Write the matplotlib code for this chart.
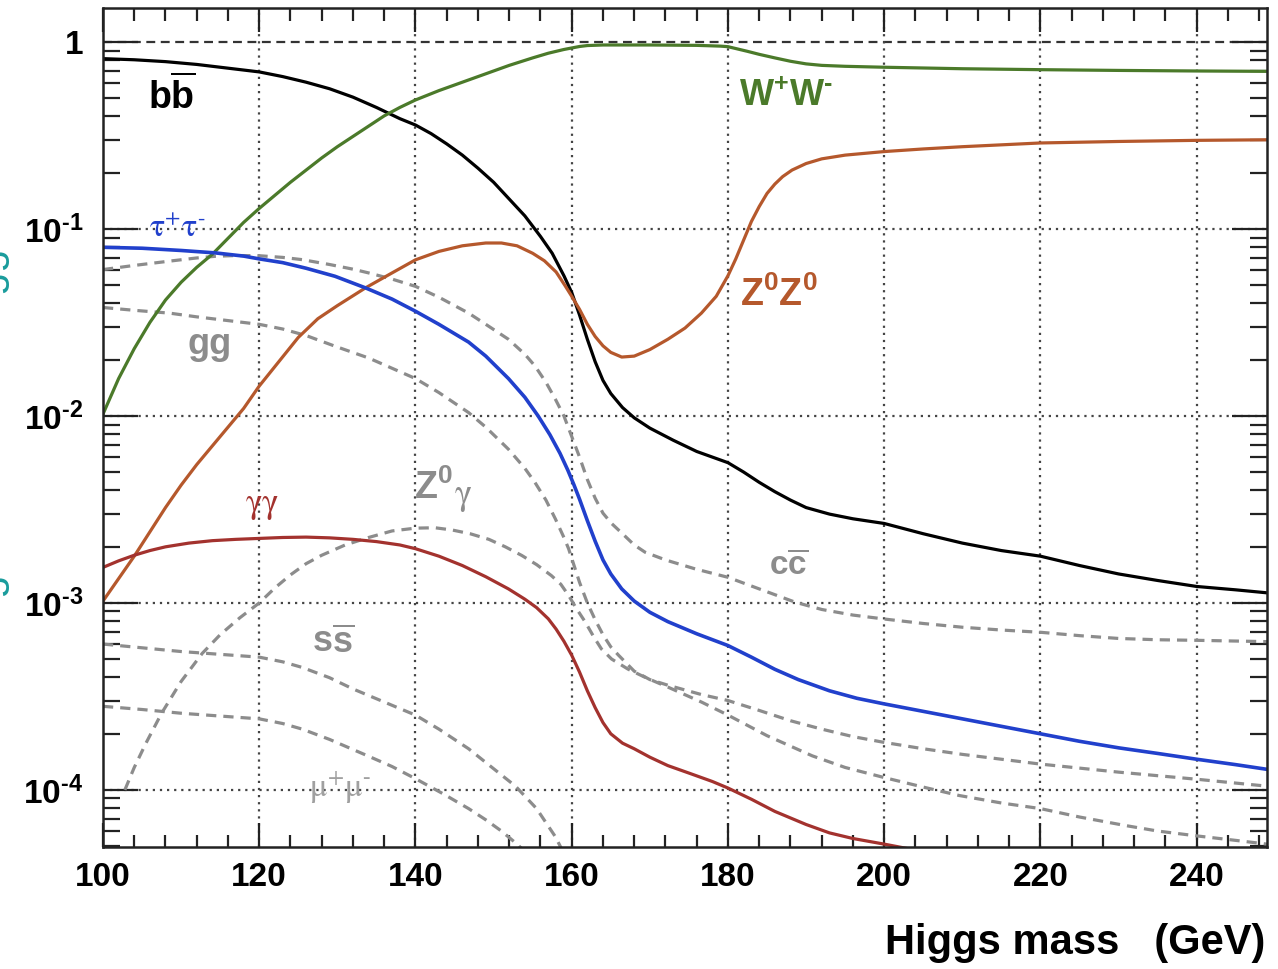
import math

import matplotlib

matplotlib.use("Agg")

import matplotlib.pyplot as plt
import numpy as np
from matplotlib.ticker import FixedLocator, FuncFormatter, LogLocator, MultipleLocator, NullFormatter

plt.rcParams["font.family"] = ["Liberation Sans", "DejaVu Sans"]
plt.rcParams["mathtext.fontset"] = "custom"
plt.rcParams["mathtext.rm"] = "Liberation Sans:bold"
plt.rcParams["mathtext.bf"] = "Liberation Sans:bold"
plt.rcParams["mathtext.it"] = "Liberation Sans:bold"
plt.rcParams["mathtext.sf"] = "Liberation Sans:bold"

# branching ratios, kept as log10(BR); Higgs mass in GeV
mass_bb = [100, 104, 108, 112, 116, 120, 123, 126, 129, 132, 135, 138, 140, 142, 144, 146, 148,
           150, 152, 154, 156, 157.5, 159, 160, 161, 162, 163, 164, 165, 166.5, 168, 170, 173,
           176, 178, 180, 182, 184, 186, 188, 190, 193, 196, 200, 205, 210, 215, 220, 225, 230,
           235, 240, 245, 249]
log_bb = [-0.089, -0.095, -0.105, -0.12, -0.14, -0.16, -0.185, -0.215, -0.25, -0.295, -0.35,
          -0.41, -0.444, -0.49, -0.545, -0.605, -0.675, -0.75, -0.84, -0.93, -1.04, -1.13, -1.25,
          -1.34, -1.46, -1.59, -1.71, -1.81, -1.88, -1.955, -2.01, -2.065, -2.13, -2.19, -2.22,
          -2.25, -2.30, -2.355, -2.405, -2.45, -2.49, -2.525, -2.55, -2.575, -2.63, -2.68, -2.72,
          -2.75, -2.80, -2.845, -2.88, -2.912, -2.93, -2.946]

mass_ww = [100, 102, 104, 106, 108, 110, 112, 114, 116, 118, 120, 122, 124, 126, 128, 130, 132,
           134, 136, 138, 140, 143, 146, 149, 152, 155, 157, 159, 160, 161, 162, 164, 170, 176,
           179, 180, 181, 182.5, 184, 186, 188, 190, 192, 195, 200, 210, 220, 230, 240, 249]
log_ww = [-1.99, -1.80, -1.64, -1.50, -1.38, -1.285, -1.205, -1.135, -1.05, -0.965, -0.89, -0.82,
          -0.75, -0.685, -0.62, -0.56, -0.505, -0.45, -0.395, -0.35, -0.31, -0.26, -0.215, -0.17,
          -0.125, -0.085, -0.06, -0.04, -0.032, -0.024, -0.019, -0.016, -0.016, -0.018, -0.022,
          -0.025, -0.035, -0.05, -0.066, -0.085, -0.103, -0.117, -0.125, -0.13, -0.135, -0.143,
          -0.148, -0.152, -0.155, -0.157]

mass_tautau = [100, 105, 110, 114.4, 118, 120, 123, 126, 129.7, 133.6, 137, 140, 143, 146.8, 149,
               151.9, 154, 155.7, 157.2, 158.5, 159.5, 160.3, 161, 162, 163, 164, 165, 166.4, 168,
               170, 172.3, 176, 180, 183, 186, 189, 193, 196.5, 200, 205, 210, 215, 220, 225, 230,
               235, 240, 245, 249]
log_tautau = [-1.098, -1.103, -1.115, -1.128, -1.145, -1.16, -1.18, -1.21, -1.253, -1.315, -1.375,
              -1.44, -1.51, -1.605, -1.68, -1.80, -1.90, -2.0, -2.10, -2.2, -2.29, -2.37, -2.445,
              -2.56, -2.67, -2.77, -2.845, -2.925, -2.99, -3.05, -3.10, -3.165, -3.228, -3.29,
              -3.355, -3.41, -3.47, -3.51, -3.54, -3.58, -3.62, -3.66, -3.70, -3.74, -3.775,
              -3.805, -3.836, -3.865, -3.89]

mass_zz = [100, 102, 104, 106, 108, 110, 112, 114, 116, 118, 120, 122.5, 125, 127.5, 130, 133.6,
           137, 140, 143, 146, 149, 151, 153, 155, 156.5, 158, 159.1, 160, 161, 162, 163, 164,
           165, 166.4, 168, 170, 172.3, 174.5, 176.6, 178.5, 180, 181, 182, 183, 184, 185, 186,
           187, 188.2, 190, 192, 195, 200, 205, 210, 215, 220, 230, 240, 249]
log_zz = [-2.99, -2.87, -2.75, -2.62, -2.49, -2.37, -2.26, -2.16, -2.06, -1.96, -1.84, -1.71,
          -1.58, -1.48, -1.41, -1.315, -1.235, -1.165, -1.12, -1.09, -1.075, -1.075, -1.09, -1.13,
          -1.17, -1.23, -1.30, -1.36, -1.43, -1.51, -1.575, -1.625, -1.66, -1.685, -1.68, -1.645,
          -1.59, -1.53, -1.45, -1.36, -1.25, -1.16, -1.06, -0.96, -0.88, -0.81, -0.76, -0.72,
          -0.685, -0.65, -0.625, -0.605, -0.586, -0.572, -0.56, -0.55, -0.54, -0.532, -0.526,
          -0.523]

mass_gamgam = [100, 102, 104, 106, 108, 111, 114, 117, 120, 123, 126, 129, 132, 135, 138, 140,
               143, 146, 149, 151.9, 154, 155.5, 157, 158, 159, 160, 161, 162, 163, 164, 165,
               166.5, 168, 170, 172.3, 175, 178, 180, 183, 186, 190, 193, 196, 200, 203]
log_gamgam = [-2.81, -2.775, -2.745, -2.72, -2.70, -2.68, -2.667, -2.66, -2.655, -2.65, -2.648,
              -2.652, -2.66, -2.672, -2.69, -2.71, -2.75, -2.80, -2.86, -2.925, -2.98, -3.025,
              -3.085, -3.14, -3.205, -3.28, -3.37, -3.47, -3.56, -3.64, -3.70, -3.75, -3.78,
              -3.825, -3.87, -3.91, -3.955, -3.99, -4.05, -4.115, -4.185, -4.23, -4.26, -4.29,
              -4.314]

mass_gg = [100, 104, 108.5, 112, 114.4, 117, 120, 123, 125.5, 129, 132, 134, 137, 140, 143, 146.8,
           149, 151.9, 154, 155.3, 156.7, 157.9, 159, 160, 161, 162, 163, 164, 165.1, 166.5, 168,
           169.4, 172, 175.8, 180, 184, 188.6, 192, 196, 200, 205, 210, 215, 220, 225, 230, 235,
           240, 249]
log_gg = [-1.217, -1.195, -1.172, -1.155, -1.146, -1.142, -1.143, -1.152, -1.164, -1.19, -1.215,
          -1.235, -1.268, -1.307, -1.365, -1.45, -1.51, -1.59, -1.67, -1.733, -1.82, -1.91, -2.0,
          -2.11, -2.22, -2.34, -2.44, -2.52, -2.575, -2.63, -2.69, -2.729, -2.77, -2.818, -2.863,
          -2.925, -2.996, -3.035, -3.065, -3.086, -3.11, -3.13, -3.145, -3.157, -3.175, -3.19,
          -3.197, -3.2, -3.207]

mass_cc = [100, 104, 108.5, 112, 116, 120, 123, 126, 129.7, 134, 137, 140, 143, 146.8, 149, 151.9,
           154, 155.3, 156.7, 157.9, 159, 159.6, 160.3, 161, 162, 163, 164, 165, 166, 168, 170,
           172.3, 176.6, 180, 184, 188, 192, 196, 200, 205, 210, 220, 230, 240, 249]
log_cc = [-1.42, -1.435, -1.45, -1.47, -1.49, -1.51, -1.535, -1.57, -1.627, -1.69, -1.745, -1.80,
          -1.875, -1.982, -2.06, -2.178, -2.28, -2.356, -2.45, -2.55, -2.65, -2.71, -2.80, -2.89,
          -3.0, -3.09, -3.17, -3.235, -3.28, -3.365, -3.41, -3.44, -3.49, -3.522, -3.575, -3.63,
          -3.675, -3.715, -3.746, -3.78, -3.81, -3.862, -3.905, -3.943, -3.98]

mass_zgam = [102.8, 104, 105.5, 107.5, 110, 112.7, 115, 117.5, 120, 122, 124, 126, 128, 131, 134,
             137, 140, 142.5, 144.7, 147, 149.4, 151.5, 153.6, 155.5, 157.4, 158.6, 159.6, 160.6,
             161.7, 162.8, 163.8, 165.1, 167.2, 169.5, 172.3, 176.6, 180, 185, 190.8, 195, 200,
             205, 209.6, 215, 220, 225, 230.8, 235, 240, 245, 249]
log_zgam = [-4.0, -3.88, -3.75, -3.59, -3.42, -3.27, -3.17, -3.08, -3.0, -2.92, -2.85, -2.79,
            -2.745, -2.69, -2.65, -2.615, -2.60, -2.598, -2.61, -2.63, -2.66, -2.70, -2.746,
            -2.795, -2.854, -2.9, -2.96, -3.03, -3.10, -3.18, -3.246, -3.30, -3.354, -3.40, -3.45,
            -3.53, -3.60, -3.71, -3.818, -3.88, -3.934, -3.985, -4.03, -4.07, -4.10, -4.145, -4.19,
            -4.22, -4.246, -4.27, -4.29]

mass_ss = [100, 105, 110, 115, 120, 123, 125.5, 129, 132, 136, 140, 143, 146.8, 149.5, 152.8,
           155.5, 157.9, 159]
log_ss = [-3.22, -3.24, -3.26, -3.275, -3.29, -3.315, -3.345, -3.40, -3.46, -3.53, -3.60, -3.675,
          -3.78, -3.87, -3.98, -4.10, -4.25, -4.34]

mass_mumu = [100, 105, 110, 115, 120, 123, 125.5, 129, 134, 137, 140, 143.5, 146.8, 149, 151, 153,
             154]
log_mumu = [-3.553, -3.57, -3.59, -3.605, -3.62, -3.645, -3.675, -3.73, -3.82, -3.875, -3.94,
            -4.02, -4.10, -4.16, -4.22, -4.29, -4.33]

decades = [1e-4, 1e-3, 1e-2, 1e-1]
x_majors = [100, 120, 140, 160, 180, 200, 220, 240]

GREEN = "#4b7a2a"
BLUE = "#2140cc"
BROWN = "#b5582c"
RED = "#a3322e"
GRAY = "#8c8c8c"


def br(values):
    return np.power(10.0, values)


fig = plt.figure(figsize=(12.78, 9.69), dpi=100)
ax = fig.add_axes([103 / 1278, 1 - 847 / 969, 1164 / 1278, 839 / 969])
ax.set_yscale("log")
ax.set_xlim(100, 249)
ax.set_ylim(4.95e-5, 1.52)

# grid: dotted at decades and x majors, dashed at BR = 1
for value in decades:
    ax.axhline(value, color="#444444", lw=1.6, ls=(0, (1, 2.2)), zorder=1)
ax.axhline(1, color="#333333", lw=1.6, ls=(0, (4, 2.5)), zorder=1)
for value in x_majors[1:]:
    ax.axvline(value, color="#444444", lw=1.6, ls=(0, (1, 2.2)), zorder=1)

dashed = dict(color=GRAY, lw=2.3, ls=(0, (3.2, 2.2)), zorder=2)
ax.plot(mass_gg, br(log_gg), **dashed)
ax.plot(mass_cc, br(log_cc), **dashed)
ax.plot(mass_zgam, br(log_zgam), **dashed)
ax.plot(mass_ss, br(log_ss), **dashed)
ax.plot(mass_mumu, br(log_mumu), **dashed)

ax.plot(mass_bb, br(log_bb), color="black", lw=2.3, zorder=3)
ax.plot(mass_ww, br(log_ww), color=GREEN, lw=2.3, zorder=3)
ax.plot(mass_zz, br(log_zz), color=BROWN, lw=2.3, zorder=3)
ax.plot(mass_gamgam, br(log_gamgam), color=RED, lw=2.3, zorder=3)
ax.plot(mass_tautau, br(log_tautau), color=BLUE, lw=2.6, zorder=3)

# curve labels
ax.text(108.8, 0.51, r"$\mathrm{b}\overline{\mathrm{b}}$", fontsize=27, ha="center", va="center")
ax.text(109.5, 0.1, r"$\mathrm{\tau^{+}\tau^{\text{-}}}$", fontsize=23, color=BLUE, ha="center",
        va="center", math_fontfamily="stix")
ax.text(113.7, 0.024, "gg", fontsize=26, fontweight="bold", color=GRAY, ha="center", va="center")
ax.text(120.4, 0.0033, r"$\mathrm{\gamma\gamma}$", fontsize=25, color=RED, ha="center",
        va="center", math_fontfamily="stix")
ax.text(144.8, 0.0041, r"$\mathrm{Z^{0}}$", fontsize=27, color=GRAY, ha="right", va="center")
ax.text(144.9, 0.0037, r"$\mathrm{\gamma}$", fontsize=26, color=GRAY, ha="left", va="center",
        math_fontfamily="stix")
ax.text(129.5, 0.00061, r"$\mathrm{s}\overline{\mathrm{s}}$", fontsize=26, color=GRAY,
        ha="center", va="center")
ax.text(130.4, 0.000102, r"$\mathrm{\mu^{+}\mu^{\text{-}}}$", fontsize=24, color="#a0a0a0",
        ha="center", va="center", math_fontfamily="stix")
ax.text(187.7, 0.00156, r"$\mathrm{c}\overline{\mathrm{c}}$", fontsize=24, color=GRAY,
        ha="center", va="center")
ax.text(187.4, 0.51, r"$\mathrm{W^{+}W^{\text{-}}}$", fontsize=26, color=GREEN, ha="center",
        va="center")
ax.text(186.5, 0.044, r"$\mathrm{Z^{0}Z^{0}}$", fontsize=27, color=BROWN, ha="center", va="center")


def decade_label(value, _pos):
    if value >= 1:
        return "1"
    return r"$\mathbf{10^{\text{-}%d}}$" % round(-math.log10(value))


# ticks, ROOT style: inside and on all four sides
ax.xaxis.set_major_locator(FixedLocator(x_majors))
ax.xaxis.set_minor_locator(MultipleLocator(4))
ax.xaxis.set_major_formatter(FuncFormatter(lambda v, _: f"{v:.0f}"))
ax.yaxis.set_major_locator(FixedLocator(decades + [1]))
ax.yaxis.set_minor_locator(LogLocator(base=10, subs=range(2, 10), numticks=20))
ax.yaxis.set_minor_formatter(NullFormatter())
ax.yaxis.set_major_formatter(FuncFormatter(decade_label))
ax.tick_params(axis="both", which="both", direction="in", top=True, right=True, width=1.6,
               color="#222222")
ax.tick_params(axis="x", which="major", length=17, pad=11, labelsize=24)
ax.tick_params(axis="x", which="minor", length=9)
ax.tick_params(axis="y", which="major", length=25, pad=14, labelsize=24)
ax.tick_params(axis="y", which="minor", length=12)
for label in ax.get_xticklabels() + ax.get_yticklabels():
    label.set_fontweight("bold")
for spine in ax.spines.values():
    spine.set_linewidth(1.8)
    spine.set_color("#222222")
    spine.set_zorder(5)

fig.text(1265 / 1278, 1 - 943 / 969, "Higgs mass   (GeV)", fontsize=30, fontweight="bold",
         ha="right", va="center")

# cropped link text on the far left edge (only its baseline side shows, as in the reference)
fig.text(10 / 1278, 1 - 495 / 969, "Branching ratios of the Higgs", fontsize=30,
         color="#1a9c9c", rotation=90, ha="right", va="center")

fig.savefig("out.png", dpi=100)
